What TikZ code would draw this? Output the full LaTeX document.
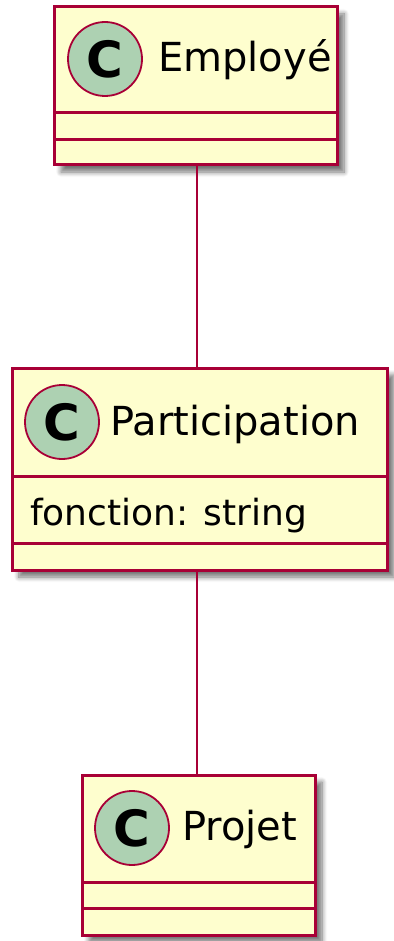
\documentclass[tikz,border=0pt]{standalone}
\usepackage{fontspec}
\setmainfont{DejaVu Sans}
\usepackage{tikz}
\usetikzlibrary{positioning, calc, shadows.blur}
\definecolor{ClassFill}{HTML}{FEFECE}
\definecolor{ClassBorder}{HTML}{A80036}
\definecolor{StereoFill}{HTML}{ADD1B2}

\begin{document}
\begin{tikzpicture}[x=1pt, y=-1pt,
    cbox/.style={rectangle, draw=ClassBorder, fill=ClassFill, line width=3pt,
                 inner sep=0pt, blur shadow={shadow xshift=7pt, shadow yshift=-7pt,
                 shadow blur radius=5pt, shadow blur steps=8, shadow opacity=55}},
    sep/.style={draw=ClassBorder, line width=3pt},
    stereo/.style={circle, draw=ClassBorder, fill=StereoFill, line width=1.8pt,
                   minimum size=74pt, inner sep=0pt, font=\fontsize{50}{50}\selectfont\bfseries},
    cname/.style={anchor=base west, inner sep=0pt, font=\fontsize{40}{44}\selectfont, text=black},
    attr/.style={anchor=base west, inner sep=0pt, font=\fontsize{36}{40}\selectfont, text=black},
    link/.style={draw=ClassBorder, line width=2pt}
  ]
  \useasboundingbox (0,0) rectangle (393,941);

  % Employé
  \node[cbox, minimum width=283pt, minimum height=158pt] (emp) at (195.5,86) {};
  \node[stereo] (empC) at (105,59) {C};
  \node[cname] (empName) at (158,72) {Employé};
  \draw[sep] (54,113) -- (337,113);
  \draw[sep] (54,140) -- (337,140);

  % Participation
  \node[cbox, minimum width=375pt, minimum height=202pt] (part) at (199.5,469) {};
  \node[stereo] (partC) at (62,422) {C};
  \node[cname] (partName) at (110,435) {Participation};
  \draw[sep] (12,476) -- (387,476);
  \node[attr] (partAttr) at (30,525) {fonction: string};
  \draw[sep] (12,543) -- (387,543);

  % Projet
  \node[cbox, minimum width=233pt, minimum height=160pt] (proj) at (198.5,855) {};
  \node[stereo] (projC) at (132,828) {C};
  \node[cname] (projName) at (182,840) {Projet};
  \draw[sep] (82,882) -- (315,882);
  \draw[sep] (82,908) -- (315,908);

  % liens
  \coordinate (top) at (197,165);
  \coordinate (mid1) at (197,368);
  \coordinate (mid2) at (197,570);
  \coordinate (bot) at (197,775);
  \draw[link] (top) -- (mid1);
  \draw[link] (mid2) -- (bot);
\end{tikzpicture}
\end{document}
